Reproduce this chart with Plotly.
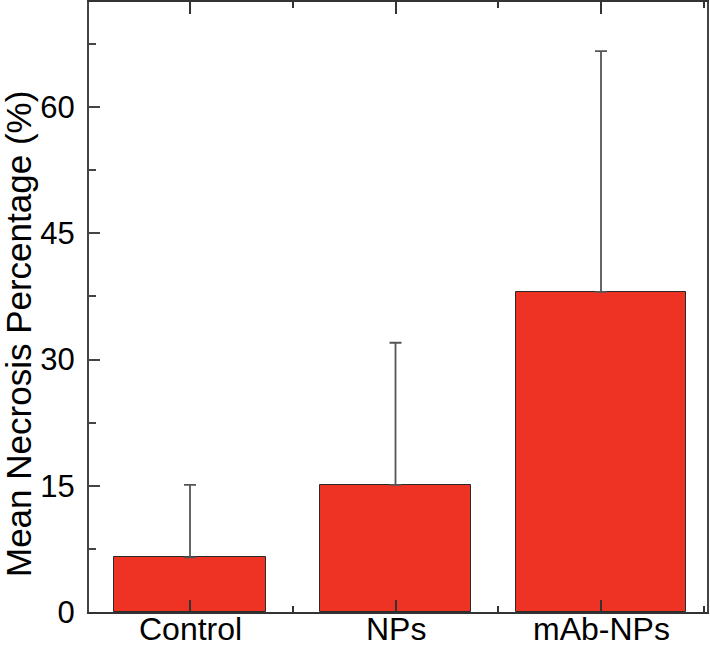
import plotly.graph_objects as go

categories = ["Control", "NPs", "mAb-NPs"]
mean_necrosis = [6.5, 15.1, 38.05]
error_plus = [8.6, 16.9, 28.6]
bar_widths = [0.74, 0.735, 0.83]
y_tick_vals = [0, 15, 30, 45, 60]

x_pos = list(range(len(categories)))

fig = go.Figure()
fig.add_trace(go.Bar(
    x=x_pos,
    y=mean_necrosis,
    width=bar_widths,
    marker=dict(color="#EE3325", line=dict(color="#2a2a2a", width=1)),
    error_y=dict(type="data", symmetric=False, array=error_plus,
                 arrayminus=[0] * len(categories),
                 color="#555555", thickness=1.8, width=6),
    showlegend=False,
))

font_family = "Liberation Sans, Arial, Helvetica, sans-serif"

annotations = [dict(
    text="Mean Necrosis Percentage (%)",
    xref="paper", yref="paper",
    x=(18 - 89) / 618, y=(612 - 334) / 610,
    xanchor="center", yanchor="middle",
    textangle=-90, showarrow=False, borderpad=0,
    font=dict(size=35, family=font_family, color="black"),
)]
for xp, cat in zip(x_pos, categories):
    annotations.append(dict(
        text=cat, xref="x", yref="paper",
        x=xp, y=-37 / 610, xanchor="center", yanchor="bottom",
        showarrow=False,
        font=dict(size=32, family=font_family, color="black"),
    ))

fig.update_layout(
    width=710, height=649,
    margin=dict(l=89, r=3, t=2, b=37, autoexpand=False),
    plot_bgcolor="white", paper_bgcolor="white",
    font=dict(family=font_family, color="black", size=31),
    bargap=0,
    xaxis=dict(
        type="linear", automargin=False,
        range=[-0.4915, 2.5158],
        tickvals=x_pos, ticktext=categories, showticklabels=False,
        ticks="inside", ticklen=12, tickwidth=1.5, tickcolor="#333333",
        minor=dict(dtick=0.5, tick0=0.5, ticks="inside", ticklen=6,
                   tickwidth=1.5, tickcolor="#333333"),
        showline=True, linecolor="#333333", linewidth=2, mirror="ticks",
        showgrid=False, zeroline=False,
    ),
    yaxis=dict(
        automargin=False,
        range=[0, 72.5],
        tickvals=y_tick_vals,
        ticks="inside", ticklen=11, tickwidth=1.5, tickcolor="#444444",
        minor=dict(dtick=7.5, tick0=0, ticks="inside", ticklen=7,
                   tickwidth=1.5, tickcolor="#444444"),
        showline=True, linecolor="#444444", linewidth=2, mirror=True,
        showgrid=False, zeroline=False,
        tickfont=dict(size=31),
        ticklabelstandoff=6,
    ),
    annotations=annotations,
)

fig.write_html(
    "out.html",
    config={"displayModeBar": False},
    post_script="document.body.style.margin='0';document.body.style.overflow='hidden';",
)
